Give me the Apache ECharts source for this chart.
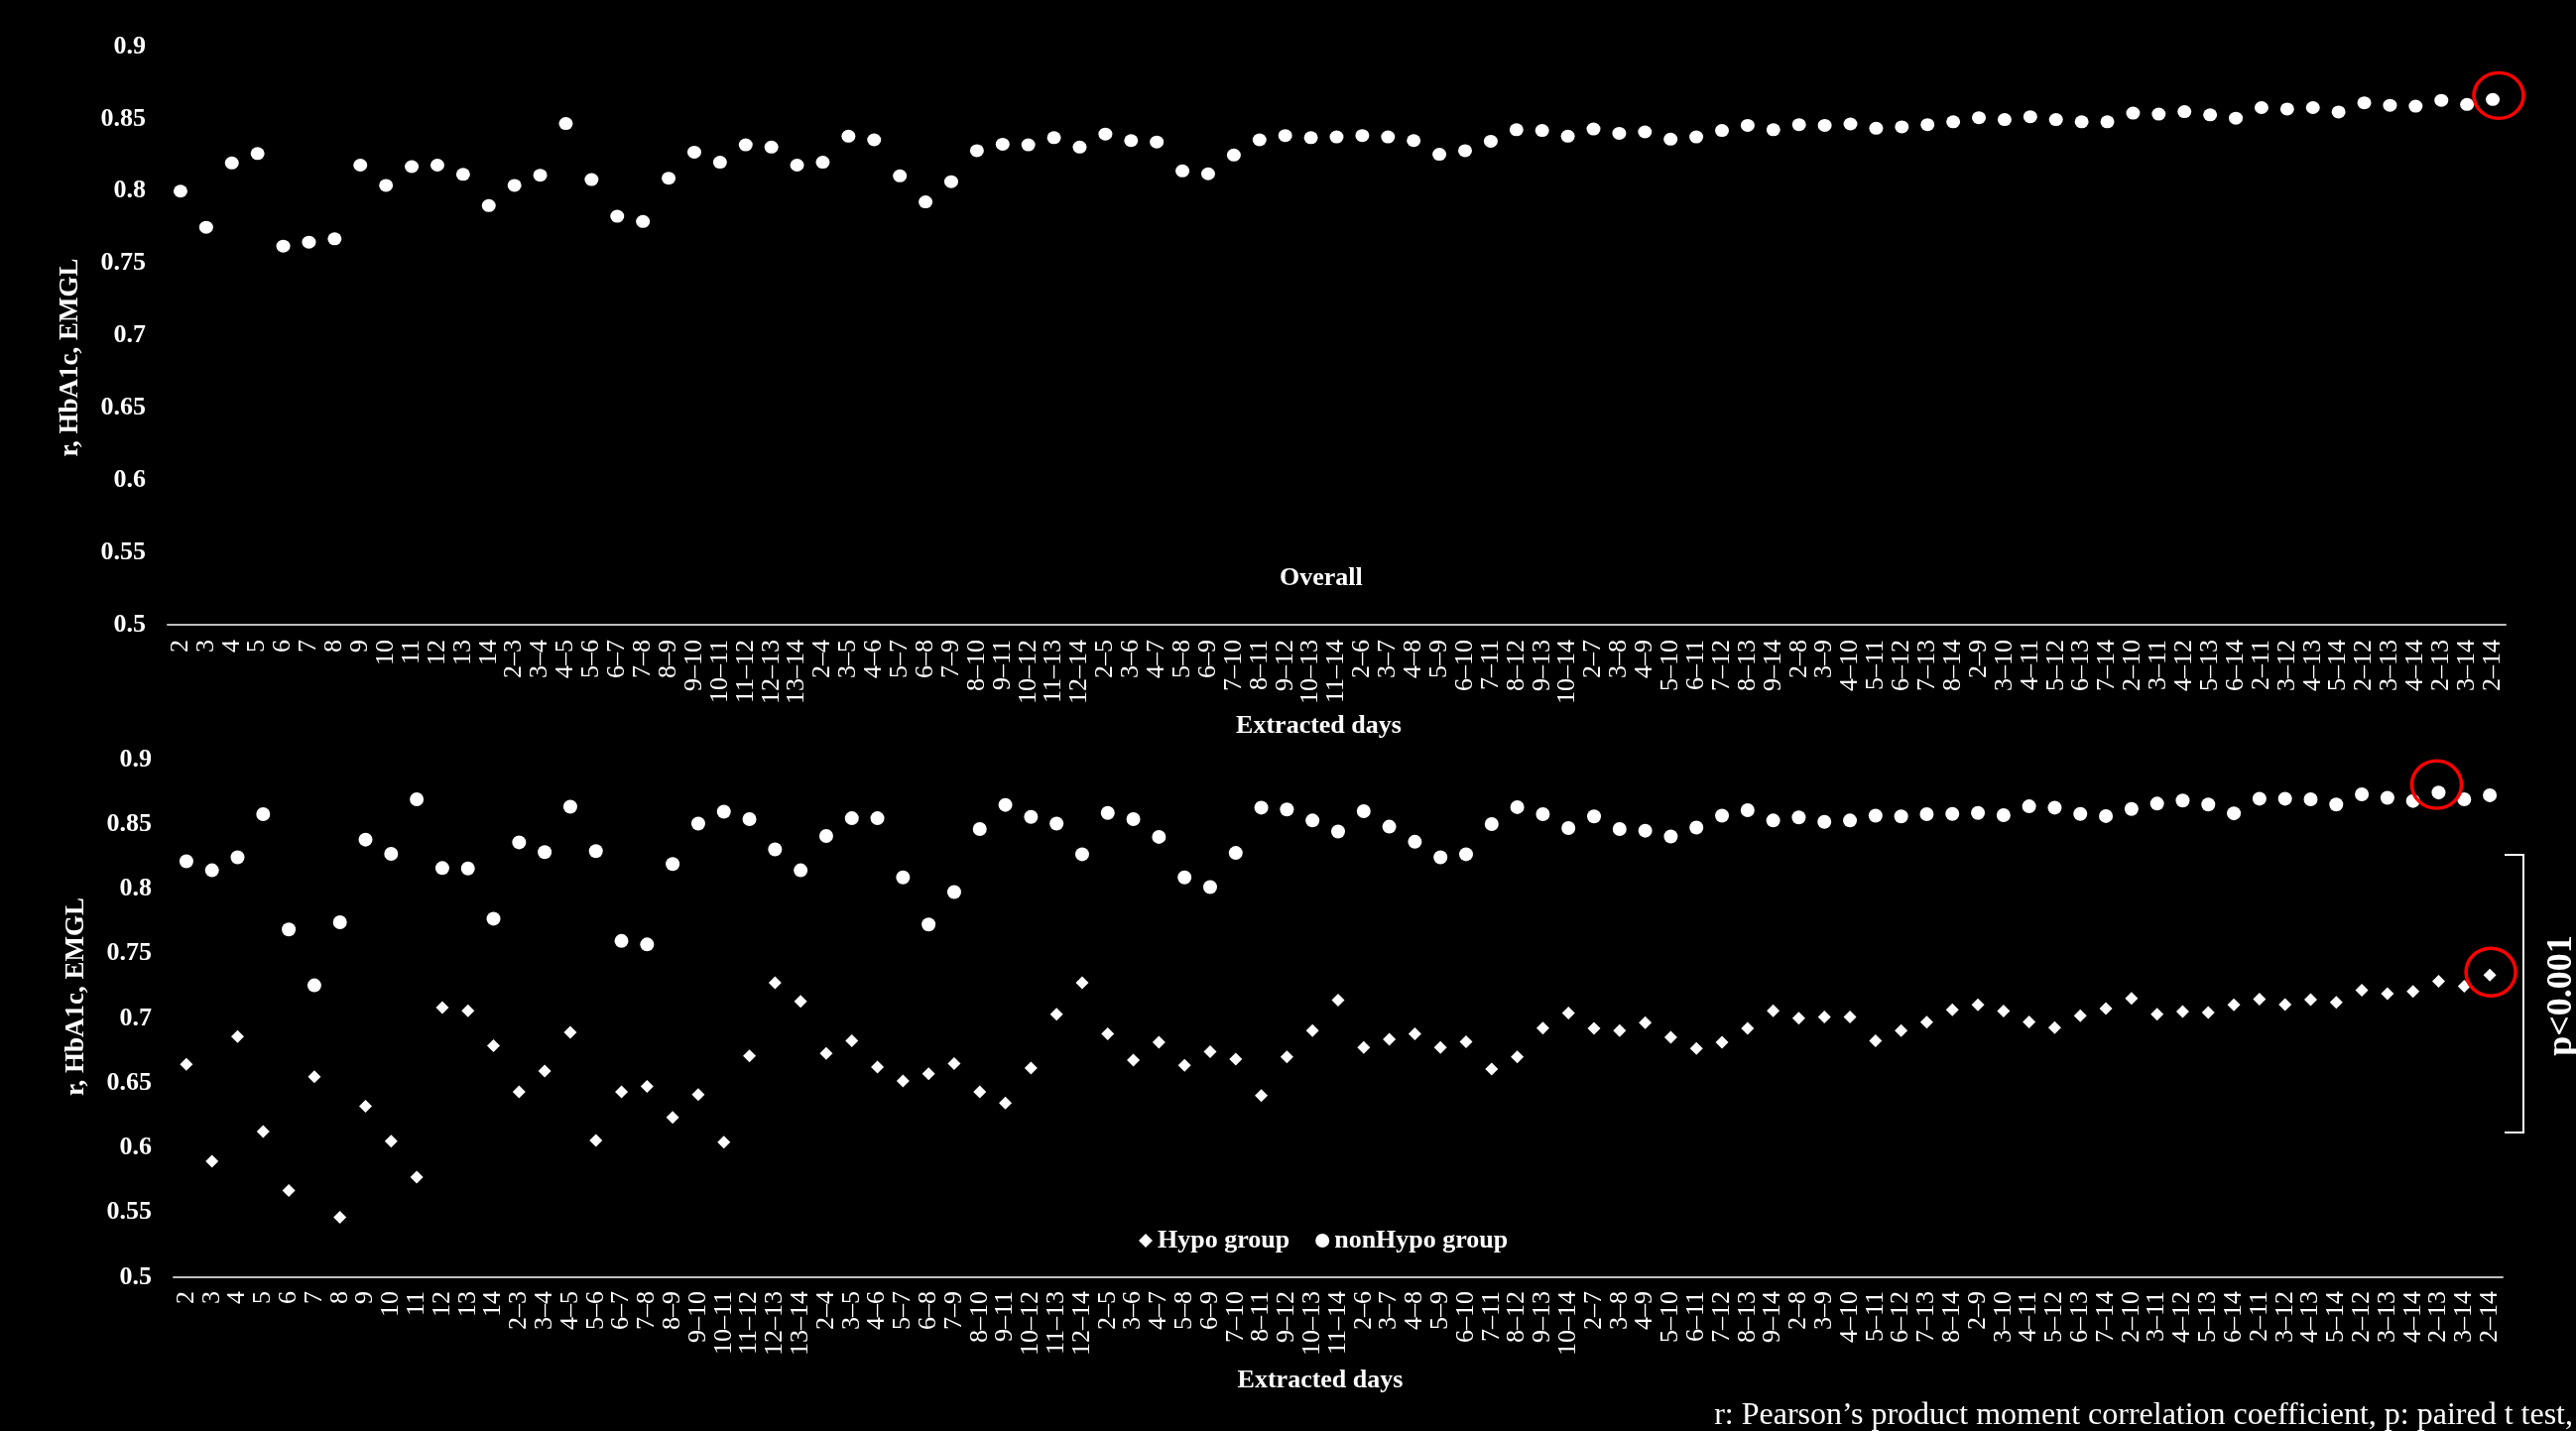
<!DOCTYPE html>
<html>
<head>
<meta charset="utf-8">
<script src="https://cdn.jsdelivr.net/npm/echarts@6/dist/echarts.min.js"></script>
<style>
html, body { margin: 0; padding: 0; background: #000; }
#chart { width: 2597px; height: 1443px; }
</style>
</head>
<body>
<div id="chart"></div>
<script>
// extracted day windows (single days, then ranges)
const days = [
  '2','3','4','5','6','7','8','9','10','11','12','13','14',
  '2–3','3–4','4–5','5–6','6–7','7–8','8–9','9–10','10–11','11–12','12–13','13–14',
  '2–4','3–5','4–6','5–7','6–8','7–9','8–10','9–11','10–12','11–13','12–14',
  '2–5','3–6','4–7','5–8','6–9','7–10','8–11','9–12','10–13','11–14',
  '2–6','3–7','4–8','5–9','6–10','7–11','8–12','9–13','10–14',
  '2–7','3–8','4–9','5–10','6–11','7–12','8–13','9–14',
  '2–8','3–9','4–10','5–11','6–12','7–13','8–14',
  '2–9','3–10','4–11','5–12','6–13','7–14',
  '2–10','3–11','4–12','5–13','6–14',
  '2–11','3–12','4–13','5–14',
  '2–12','3–13','4–14',
  '2–13','3–14',
  '2–14'
];

const overall = [
  0.800,0.775,0.8195,0.826,0.762,0.7647,0.767,0.818,0.804,0.817,0.818,0.8116,0.790,
  0.804,0.811,0.8468,0.808,0.7826,0.779,0.809,0.827,0.820,0.832,0.8305,0.818,
  0.820,0.838,0.8355,0.8106,0.7926,0.8066,0.828,0.8325,0.832,0.837,0.8305,
  0.8395,0.835,0.834,0.814,0.812,0.825,0.8355,0.8385,0.837,0.8375,
  0.8385,0.8375,0.835,0.8255,0.828,0.8345,0.8425,0.842,0.838,
  0.843,0.840,0.841,0.836,0.8375,0.842,0.8455,0.8425,
  0.846,0.8455,0.8465,0.8435,0.8445,0.846,0.848,
  0.8508,0.8495,0.8515,0.8495,0.848,0.848,
  0.854,0.8533,0.855,0.8528,0.8505,
  0.8578,0.8568,0.8578,0.8548,
  0.8611,0.8594,0.8588,
  0.8628,0.860,
  0.8634
];

const hypo = [
  0.6645,0.5896,0.686,0.6126,0.567,0.6549,0.5464,0.6322,0.6051,0.5773,0.7084,0.706,0.6789,
  0.6432,0.6593,0.6892,0.6058,0.6432,0.6476,0.6236,0.6411,0.6044,0.671,0.7276,0.7132,
  0.673,0.6827,0.6624,0.6518,0.6573,0.6652,0.6432,0.6346,0.6617,0.7033,0.7276,
  0.6882,0.6679,0.6816,0.6638,0.6744,0.6686,0.6404,0.6703,0.6906,0.7142,
  0.6775,0.684,0.6882,0.6775,0.682,0.661,0.6703,0.6926,0.7043,
  0.6923,0.6906,0.6967,0.6854,0.6768,0.6816,0.6923,0.706,
  0.7002,0.7012,0.7012,0.6827,0.6906,0.6971,0.7067,
  0.7105,0.7057,0.6974,0.693,0.7022,0.7077,
  0.7156,0.7033,0.7053,0.7046,0.7105,
  0.7149,0.7108,0.7146,0.7125,
  0.7218,0.7191,0.7208,
  0.7287,0.7249,
  0.7335
];

const nonHypo = [
  0.8214,0.8145,0.8245,0.8578,0.7688,0.7256,0.7743,0.8382,0.8272,0.8694,0.8162,0.8159,0.7771,
  0.8361,0.8286,0.8636,0.8293,0.7599,0.7572,0.8193,0.8506,0.8598,0.854,0.8306,0.8145,
  0.841,0.8547,0.8547,0.809,0.7726,0.7977,0.8464,0.865,0.8557,0.8506,0.8269,
  0.8588,0.854,0.8403,0.809,0.8015,0.8279,0.8629,0.8615,0.853,0.8444,
  0.8602,0.8482,0.8365,0.8245,0.8269,0.8502,0.8633,0.8578,0.8471,
  0.8561,0.8464,0.8451,0.8406,0.8475,0.8567,0.8609,0.853,
  0.8554,0.8519,0.853,0.8567,0.8561,0.8578,0.8581,
  0.8588,0.8571,0.8639,0.8629,0.8581,0.8564,
  0.8619,0.866,0.8684,0.8653,0.8585,
  0.8698,0.8698,0.8694,0.8653,
  0.8732,0.8705,0.8681,
  0.8746,0.8694,
  0.8725
];

// points circled in red
const ringTop = ['2–14'];
const ringNonHypo = ['2–13'];
const ringHypo = ['2–14'];

const FONT = 'Liberation Serif';
const chart = echarts.init(document.getElementById('chart'));

function xAxisFor(gridIndex, margin, gap) {
  return {
    type: 'category',
    gridIndex: gridIndex,
    data: days,
    boundaryGap: true,
    name: 'Extracted days',
    nameLocation: 'middle',
    nameGap: gap,
    nameTextStyle: { color: '#fff', fontFamily: FONT, fontWeight: 'bold', fontSize: 26, padding: [0, 36, 0, 0] },
    axisLine: { show: true, lineStyle: { color: '#bfbfbf', width: 2 } },
    axisTick: { show: false },
    axisLabel: { interval: 0, rotate: 90, margin: margin, color: '#fff', fontFamily: FONT, fontSize: 26 },
    splitLine: { show: false }
  };
}

function yAxisFor(gridIndex, pad) {
  return {
    type: 'value',
    gridIndex: gridIndex,
    min: 0.5,
    max: 0.9,
    interval: 0.05,
    name: 'r, HbA1c, EMGL',
    nameLocation: 'middle',
    nameRotate: 90,
    nameGap: 84,
    nameTextStyle: { color: '#fff', fontFamily: FONT, fontWeight: 'bold', fontSize: 27, padding: pad },
    axisLine: { show: false },
    axisTick: { show: false },
    axisLabel: { color: '#fff', fontFamily: FONT, fontWeight: 'bold', fontSize: 26, margin: 22 },
    splitLine: { show: false }
  };
}

function ring(names, values, offset) {
  return names.map(n => ({ value: [n, values[days.indexOf(n)]], symbolOffset: offset }));
}

const ringStyle = { color: 'rgba(0,0,0,0)', borderColor: '#ff0000', borderWidth: 3.5, opacity: 1 };
const dotStyle = { color: '#fff', opacity: 1 };

chart.setOption({
  backgroundColor: '#000',
  animation: false,
  textStyle: { fontFamily: FONT },
  grid: [
    { left: 169, right: 71, top: 47, bottom: 813 },
    { left: 175, right: 74, top: 766, bottom: 155 }
  ],
  xAxis: [xAxisFor(0, 15, 89), xAxisFor(1, 14, 91)],
  yAxis: [yAxisFor(0, [0, 44, 0, 0]), yAxisFor(1, [0, 0, 0, 44])],
  legend: {
    data: ['Hypo group', 'nonHypo group'],
    left: 1143,
    top: 1233,
    itemWidth: 14,
    itemHeight: 14,
    itemGap: 26,
    textStyle: { color: '#fff', fontFamily: FONT, fontWeight: 'bold', fontSize: 26 }
  },
  graphic: [
    {
      type: 'text', left: 1290, top: 570,
      style: { text: 'Overall', fill: '#fff', font: 'bold 26px "Liberation Serif"' }
    },
    {
      type: 'polyline',
      shape: { points: [[2525, 862], [2544, 862], [2544, 1142], [2525, 1142]] },
      style: { stroke: '#fff', lineWidth: 2, fill: null }
    },
    {
      type: 'text', x: 2583, y: 1004, rotation: Math.PI / 2,
      style: { text: 'p<0.001', fill: '#fff', font: 'bold 36px "Liberation Serif"', align: 'center', verticalAlign: 'middle' }
    },
    {
      type: 'text', x: 2594, y: 1428,
      style: {
        text: 'r: Pearson’s product moment correlation coefficient, p: paired t test,',
        fill: '#fff', font: '32px "Liberation Serif"', align: 'right', verticalAlign: 'middle'
      }
    }
  ],
  series: [
    {
      name: 'Overall', type: 'scatter', xAxisIndex: 0, yAxisIndex: 0,
      symbol: 'circle', symbolSize: [14, 13],
      itemStyle: dotStyle,
      data: overall
    },
    {
      name: 'ringTop', type: 'scatter', xAxisIndex: 0, yAxisIndex: 0, z: 5,
      symbol: 'circle', symbolSize: [50, 46], itemStyle: ringStyle,
      data: ring(ringTop, overall, [6, -4])
    },
    {
      name: 'Hypo group', type: 'scatter', xAxisIndex: 1, yAxisIndex: 1,
      symbol: 'diamond', symbolSize: 13,
      itemStyle: dotStyle,
      data: hypo
    },
    {
      name: 'nonHypo group', type: 'scatter', xAxisIndex: 1, yAxisIndex: 1,
      symbol: 'circle', symbolSize: 14,
      itemStyle: dotStyle,
      data: nonHypo
    },
    {
      name: 'ringBottom', type: 'scatter', xAxisIndex: 1, yAxisIndex: 1, z: 5,
      symbol: 'circle', symbolSize: [50, 48], itemStyle: ringStyle,
      data: ring(ringNonHypo, nonHypo, [-2, -8]).concat(ring(ringHypo, hypo, [1, -3]))
    }
  ]
});
</script>
</body>
</html>
